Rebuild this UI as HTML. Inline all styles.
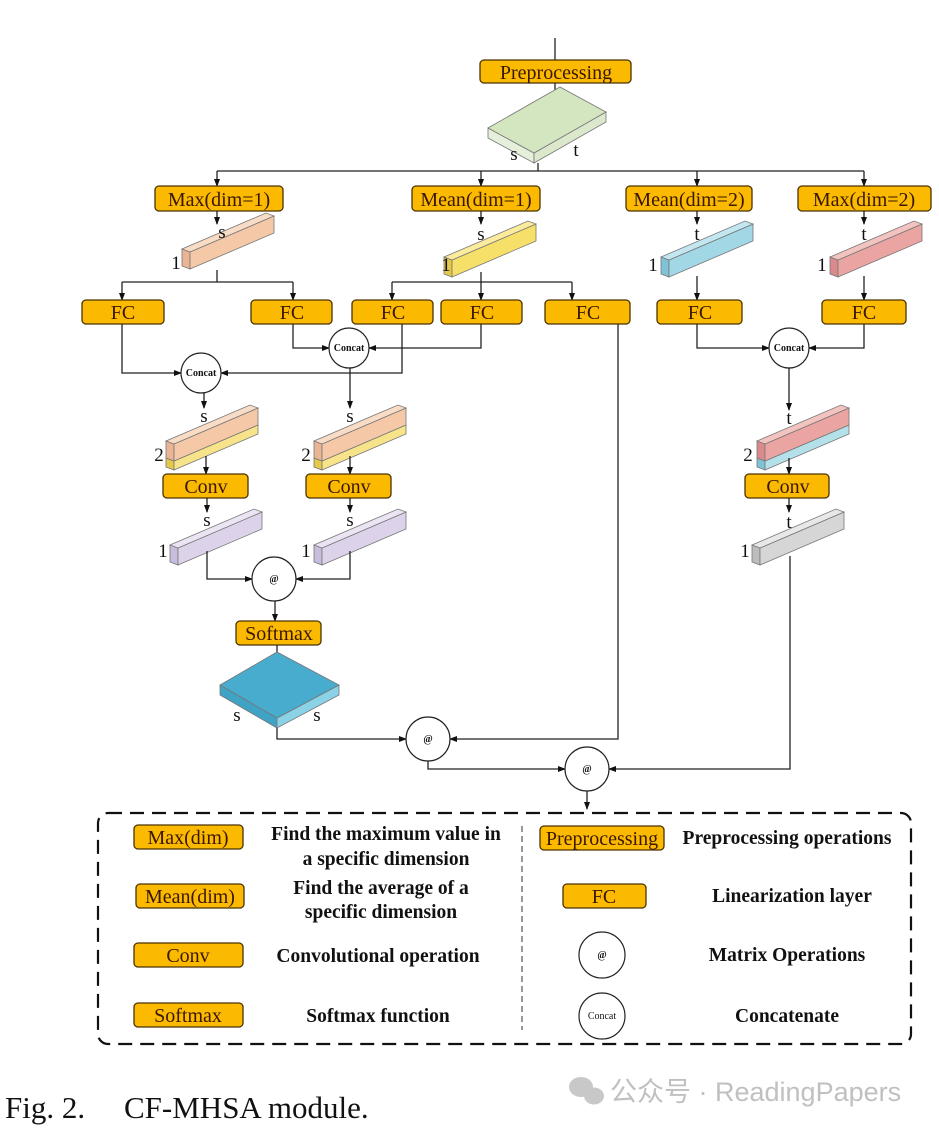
<!DOCTYPE html>
<html><head><meta charset="utf-8"><style>
html,body{margin:0;padding:0;background:#fff;}
svg{display:block;}
.bx{fill:#fbb900;stroke:#4a3300;stroke-width:1.3;}
.bt{font-family:"Liberation Serif",serif;font-size:20px;fill:#3a1800;text-anchor:middle;}
.ln{fill:none;stroke:#222;stroke-width:1.3;}
.lb{font-family:"Liberation Serif",serif;font-size:19px;fill:#111;text-anchor:middle;}
.cc{fill:#fff;stroke:#222;stroke-width:1.2;}
.ct{font-family:"Liberation Serif",serif;font-size:10px;font-weight:bold;fill:#111;text-anchor:middle;}
.lg{font-family:"Liberation Serif",serif;font-size:19.5px;font-weight:bold;fill:#111;text-anchor:middle;}
.fs{stroke:#777;stroke-width:0.8;}
</style></head><body>
<svg width="939" height="1130" viewBox="0 0 939 1130" xmlns="http://www.w3.org/2000/svg">
<defs>
<marker id="ar" markerWidth="8" markerHeight="8" refX="7" refY="4" orient="auto" markerUnits="userSpaceOnUse">
<path d="M0,1 L8,4 L0,7 z" fill="#111"/></marker>
</defs>

<line class="ln" x1="555" y1="38" x2="555" y2="60"/>
<rect class="bx" x="480" y="60" width="151" height="23" rx="4"/>
<text class="bt" x="556" y="79">Preprocessing</text>
<line class="ln" x1="555" y1="83" x2="555" y2="100" marker-end="url(#ar)"/>
<polygon points="488,128 534,153 534,163 488,138" fill="#e6efdb" class="fs"/>
<polygon points="534,153 606,112 606,122 534,163" fill="#dbe8cc" class="fs"/>
<polygon points="488,128 560,87 606,112 534,153" fill="#d4e6c0" class="fs"/>
<text class="lb" x="514" y="160">s</text>
<text class="lb" x="576" y="156">t</text>
<line class="ln" x1="538" y1="163" x2="538" y2="171"/>
<line class="ln" x1="217" y1="171" x2="864" y2="171"/>
<line class="ln" x1="217" y1="171" x2="217" y2="186" marker-end="url(#ar)"/>
<line class="ln" x1="481" y1="171" x2="481" y2="186" marker-end="url(#ar)"/>
<line class="ln" x1="697" y1="171" x2="697" y2="186" marker-end="url(#ar)"/>
<line class="ln" x1="864" y1="171" x2="864" y2="186" marker-end="url(#ar)"/>

<rect class="bx" x="155" y="186" width="128" height="25" rx="4"/><text class="bt" x="219" y="206">Max(dim=1)</text>
<rect class="bx" x="412" y="186" width="128" height="25" rx="4"/><text class="bt" x="476" y="206">Mean(dim=1)</text>
<rect class="bx" x="626" y="186" width="126" height="25" rx="4"/><text class="bt" x="689" y="206">Mean(dim=2)</text>
<rect class="bx" x="798" y="186" width="133" height="25" rx="4"/><text class="bt" x="864" y="206">Max(dim=2)</text>

<line class="ln" x1="217" y1="211" x2="217" y2="224" marker-end="url(#ar)"/>
<line class="ln" x1="481" y1="211" x2="481" y2="224" marker-end="url(#ar)"/>
<line class="ln" x1="697" y1="211" x2="697" y2="224" marker-end="url(#ar)"/>
<line class="ln" x1="864" y1="211" x2="864" y2="224" marker-end="url(#ar)"/>

<g transform="translate(182,266)">
<polygon points="0,0 8,3 8,-14 0,-17" fill="#eab592" class="fs"/><polygon points="8,3 92,-33 92,-50 8,-14" fill="#f5c9a8" class="fs"/><polygon points="0,-17 8,-14 92,-50 84,-53" fill="#f9dcc6" class="fs"/></g>
<g transform="translate(444,274)">
<polygon points="0,0 8,3 8,-14 0,-17" fill="#e5c94a" class="fs"/><polygon points="8,3 92,-33 92,-50 8,-14" fill="#f6e06a" class="fs"/><polygon points="0,-17 8,-14 92,-50 84,-53" fill="#faec9c" class="fs"/></g>
<g transform="translate(661,274)">
<polygon points="0,0 8,3 8,-14 0,-17" fill="#7fc3d7" class="fs"/><polygon points="8,3 92,-33 92,-50 8,-14" fill="#a2d7e6" class="fs"/><polygon points="0,-17 8,-14 92,-50 84,-53" fill="#c2e7f1" class="fs"/></g>
<g transform="translate(830,274)">
<polygon points="0,0 8,3 8,-14 0,-17" fill="#d98a8a" class="fs"/><polygon points="8,3 92,-33 92,-50 8,-14" fill="#eaa5a3" class="fs"/><polygon points="0,-17 8,-14 92,-50 84,-53" fill="#f3c3c0" class="fs"/></g>
<text class="lb" x="222" y="238">s</text><text class="lb" x="176" y="269">1</text>
<text class="lb" x="481" y="240">s</text><text class="lb" x="446" y="271">1</text>
<text class="lb" x="697" y="240">t</text><text class="lb" x="653" y="271">1</text>
<text class="lb" x="864" y="240">t</text><text class="lb" x="822" y="271">1</text>

<line class="ln" x1="217" y1="270" x2="217" y2="282"/>
<line class="ln" x1="122" y1="282" x2="293" y2="282"/>
<line class="ln" x1="122" y1="282" x2="122" y2="300" marker-end="url(#ar)"/>
<line class="ln" x1="293" y1="282" x2="293" y2="300" marker-end="url(#ar)"/>
<line class="ln" x1="481" y1="272" x2="481" y2="282"/>
<line class="ln" x1="392" y1="282" x2="572" y2="282"/>
<line class="ln" x1="392" y1="282" x2="392" y2="300" marker-end="url(#ar)"/>
<line class="ln" x1="481" y1="282" x2="481" y2="300" marker-end="url(#ar)"/>
<line class="ln" x1="572" y1="282" x2="572" y2="300" marker-end="url(#ar)"/>
<line class="ln" x1="697" y1="276" x2="697" y2="300" marker-end="url(#ar)"/>
<line class="ln" x1="864" y1="276" x2="864" y2="300" marker-end="url(#ar)"/>

<rect class="bx" x="82" y="300" width="82" height="24" rx="4"/><text class="bt" x="123" y="319">FC</text>
<rect class="bx" x="251" y="300" width="81" height="24" rx="4"/><text class="bt" x="292" y="319">FC</text>
<rect class="bx" x="352" y="300" width="81" height="24" rx="4"/><text class="bt" x="393" y="319">FC</text>
<rect class="bx" x="441" y="300" width="81" height="24" rx="4"/><text class="bt" x="482" y="319">FC</text>
<rect class="bx" x="545" y="300" width="85" height="24" rx="4"/><text class="bt" x="588" y="319">FC</text>
<rect class="bx" x="657" y="300" width="85" height="24" rx="4"/><text class="bt" x="700" y="319">FC</text>
<rect class="bx" x="822" y="300" width="84" height="24" rx="4"/><text class="bt" x="864" y="319">FC</text>

<polyline class="ln" points="293,324 293,348 329,348" marker-end="url(#ar)"/>
<polyline class="ln" points="481,324 481,348 369,348" marker-end="url(#ar)"/>
<polyline class="ln" points="122,324 122,373 181,373" marker-end="url(#ar)"/>
<polyline class="ln" points="402,324 402,373 221,373" marker-end="url(#ar)"/>
<polyline class="ln" points="697,324 697,348 769,348" marker-end="url(#ar)"/>
<polyline class="ln" points="864,324 864,348 809,348" marker-end="url(#ar)"/>
<circle class="cc" cx="349" cy="348" r="20"/><text class="ct" x="349" y="351">Concat</text>
<circle class="cc" cx="201" cy="373" r="20"/><text class="ct" x="201" y="376">Concat</text>
<circle class="cc" cx="789" cy="348" r="20"/><text class="ct" x="789" y="351">Concat</text>

<line class="ln" x1="204" y1="393" x2="204" y2="408" marker-end="url(#ar)"/>
<line class="ln" x1="350" y1="368" x2="350" y2="408" marker-end="url(#ar)"/>
<line class="ln" x1="789" y1="368" x2="789" y2="410" marker-end="url(#ar)"/>

<g transform="translate(166,467)">
<polygon points="0,0 8,3 8,-6 0,-9" fill="#e5c94a" class="fs"/><polygon points="8,3 92,-33 92,-42 8,-6" fill="#f6e38a" class="fs"/>
<g transform="translate(0,-9)"><polygon points="0,0 8,3 8,-14 0,-17" fill="#eab592" class="fs"/><polygon points="8,3 92,-33 92,-50 8,-14" fill="#f5c9a8" class="fs"/><polygon points="0,-17 8,-14 92,-50 84,-53" fill="#f9dcc6" class="fs"/></g></g>
<g transform="translate(314,467)">
<polygon points="0,0 8,3 8,-6 0,-9" fill="#e5c94a" class="fs"/><polygon points="8,3 92,-33 92,-42 8,-6" fill="#f6e38a" class="fs"/>
<g transform="translate(0,-9)"><polygon points="0,0 8,3 8,-14 0,-17" fill="#eab592" class="fs"/><polygon points="8,3 92,-33 92,-50 8,-14" fill="#f5c9a8" class="fs"/><polygon points="0,-17 8,-14 92,-50 84,-53" fill="#f9dcc6" class="fs"/></g></g>
<g transform="translate(757,467)">
<polygon points="0,0 8,3 8,-6 0,-9" fill="#7fc3d7" class="fs"/><polygon points="8,3 92,-33 92,-42 8,-6" fill="#b4e0ea" class="fs"/>
<g transform="translate(0,-9)"><polygon points="0,0 8,3 8,-14 0,-17" fill="#d98a8a" class="fs"/><polygon points="8,3 92,-33 92,-50 8,-14" fill="#eaa5a3" class="fs"/><polygon points="0,-17 8,-14 92,-50 84,-53" fill="#f3c3c0" class="fs"/></g></g>
<text class="lb" x="204" y="422">s</text><text class="lb" x="159" y="461">2</text>
<text class="lb" x="350" y="422">s</text><text class="lb" x="306" y="461">2</text>
<text class="lb" x="789" y="424">t</text><text class="lb" x="748" y="461">2</text>

<line class="ln" x1="206" y1="456" x2="206" y2="474" marker-end="url(#ar)"/>
<line class="ln" x1="350" y1="456" x2="350" y2="474" marker-end="url(#ar)"/>
<line class="ln" x1="789" y1="458" x2="789" y2="474" marker-end="url(#ar)"/>
<rect class="bx" x="163" y="474" width="85" height="24" rx="4"/><text class="bt" x="206" y="493">Conv</text>
<rect class="bx" x="306" y="474" width="85" height="24" rx="4"/><text class="bt" x="349" y="493">Conv</text>
<rect class="bx" x="745" y="474" width="84" height="24" rx="4"/><text class="bt" x="788" y="493">Conv</text>
<line class="ln" x1="207" y1="498" x2="207" y2="512" marker-end="url(#ar)"/>
<line class="ln" x1="350" y1="498" x2="350" y2="512" marker-end="url(#ar)"/>
<line class="ln" x1="789" y1="498" x2="789" y2="512" marker-end="url(#ar)"/>

<g transform="translate(170,562)">
<polygon points="0,0 8,3 8,-14 0,-17" fill="#c9bddd" class="fs"/><polygon points="8,3 92,-33 92,-50 8,-14" fill="#dcd3ea" class="fs"/><polygon points="0,-17 8,-14 92,-50 84,-53" fill="#ebe5f3" class="fs"/></g>
<g transform="translate(314,562)">
<polygon points="0,0 8,3 8,-14 0,-17" fill="#c9bddd" class="fs"/><polygon points="8,3 92,-33 92,-50 8,-14" fill="#dcd3ea" class="fs"/><polygon points="0,-17 8,-14 92,-50 84,-53" fill="#ebe5f3" class="fs"/></g>
<g transform="translate(752,562)">
<polygon points="0,0 8,3 8,-14 0,-17" fill="#bdbdbd" class="fs"/><polygon points="8,3 92,-33 92,-50 8,-14" fill="#d6d6d6" class="fs"/><polygon points="0,-17 8,-14 92,-50 84,-53" fill="#e8e8e8" class="fs"/></g>
<text class="lb" x="207" y="526">s</text><text class="lb" x="163" y="557">1</text>
<text class="lb" x="350" y="526">s</text><text class="lb" x="306" y="557">1</text>
<text class="lb" x="789" y="528">t</text><text class="lb" x="745" y="557">1</text>

<polyline class="ln" points="207,551 207,579 252,579" marker-end="url(#ar)"/>
<polyline class="ln" points="350,551 350,579 296,579" marker-end="url(#ar)"/>
<circle class="cc" cx="274" cy="579" r="22"/><text class="ct" x="274" y="582">@</text>
<line class="ln" x1="275" y1="601" x2="275" y2="621" marker-end="url(#ar)"/>
<rect class="bx" x="236" y="621" width="85" height="24" rx="4"/><text class="bt" x="279" y="640">Softmax</text>
<line class="ln" x1="277" y1="645" x2="277" y2="660" marker-end="url(#ar)"/>
<polygon points="220,685 277,718 277,728 220,695" fill="#3ea3c4" class="fs"/>
<polygon points="277,718 339,685 339,695 277,728" fill="#8ad2e5" class="fs"/>
<polygon points="220,685 277,652 339,685 277,718" fill="#48acce" class="fs"/>
<text class="lb" x="237" y="721">s</text><text class="lb" x="317" y="721">s</text>

<polyline class="ln" points="277,728 277,739 406,739" marker-end="url(#ar)"/>
<polyline class="ln" points="618,324 618,739 450,739" marker-end="url(#ar)"/>
<circle class="cc" cx="428" cy="739" r="22"/><text class="ct" x="428" y="742">@</text>
<polyline class="ln" points="428,761 428,769 565,769" marker-end="url(#ar)"/>
<polyline class="ln" points="790,556 790,769 609,769" marker-end="url(#ar)"/>
<circle class="cc" cx="587" cy="769" r="22"/><text class="ct" x="587" y="772">@</text>
<line class="ln" x1="587" y1="791" x2="587" y2="809" marker-end="url(#ar)"/>

<rect x="98" y="813" width="813" height="231" rx="10" fill="none" stroke="#111" stroke-width="2.2" stroke-dasharray="14,8"/>
<line x1="522" y1="826" x2="522" y2="1030" stroke="#333" stroke-width="1" stroke-dasharray="6,4"/>
<rect class="bx" x="134" y="825" width="109" height="24" rx="4"/><text class="bt" x="188" y="844">Max(dim)</text>
<text class="lg" x="386" y="840">Find the maximum value in</text>
<text class="lg" x="386" y="865">a specific dimension</text>
<rect class="bx" x="136" y="884" width="108" height="24" rx="4"/><text class="bt" x="190" y="903">Mean(dim)</text>
<text class="lg" x="381" y="894">Find the average of a</text>
<text class="lg" x="381" y="918">specific dimension</text>
<rect class="bx" x="134" y="943" width="109" height="24" rx="4"/><text class="bt" x="188" y="962">Conv</text>
<text class="lg" x="378" y="962">Convolutional operation</text>
<rect class="bx" x="134" y="1003" width="109" height="24" rx="4"/><text class="bt" x="188" y="1022">Softmax</text>
<text class="lg" x="378" y="1022">Softmax function</text>
<rect class="bx" x="540" y="826" width="124" height="24" rx="4"/><text class="bt" x="602" y="845">Preprocessing</text>
<text class="lg" x="787" y="844">Preprocessing operations</text>
<rect class="bx" x="563" y="884" width="83" height="24" rx="4"/><text class="bt" x="604" y="903">FC</text>
<text class="lg" x="792" y="902">Linearization layer</text>
<circle class="cc" cx="602" cy="955" r="23"/><text class="ct" x="602" y="958">@</text>
<text class="lg" x="787" y="961">Matrix Operations</text>
<circle class="cc" cx="602" cy="1016" r="23"/><text class="ct" x="602" y="1019" style="font-weight:normal">Concat</text>
<text class="lg" x="787" y="1022">Concatenate</text>

<text x="5" y="1118" font-family="Liberation Serif, serif" font-size="31" fill="#111">Fig. 2.</text>
<text x="124" y="1118" font-family="Liberation Serif, serif" font-size="31" fill="#111">CF-MHSA  module.</text>
<g fill="#c8c8c8"><ellipse cx="581" cy="1087" rx="12" ry="10"/><ellipse cx="594" cy="1096" rx="10" ry="8.5"/></g>
<text x="610" y="1101" font-family="Liberation Sans, 'Noto Sans CJK SC', sans-serif" font-size="27" fill="#c0c0c0">公众号 · ReadingPapers</text>
</svg>
</body></html>
